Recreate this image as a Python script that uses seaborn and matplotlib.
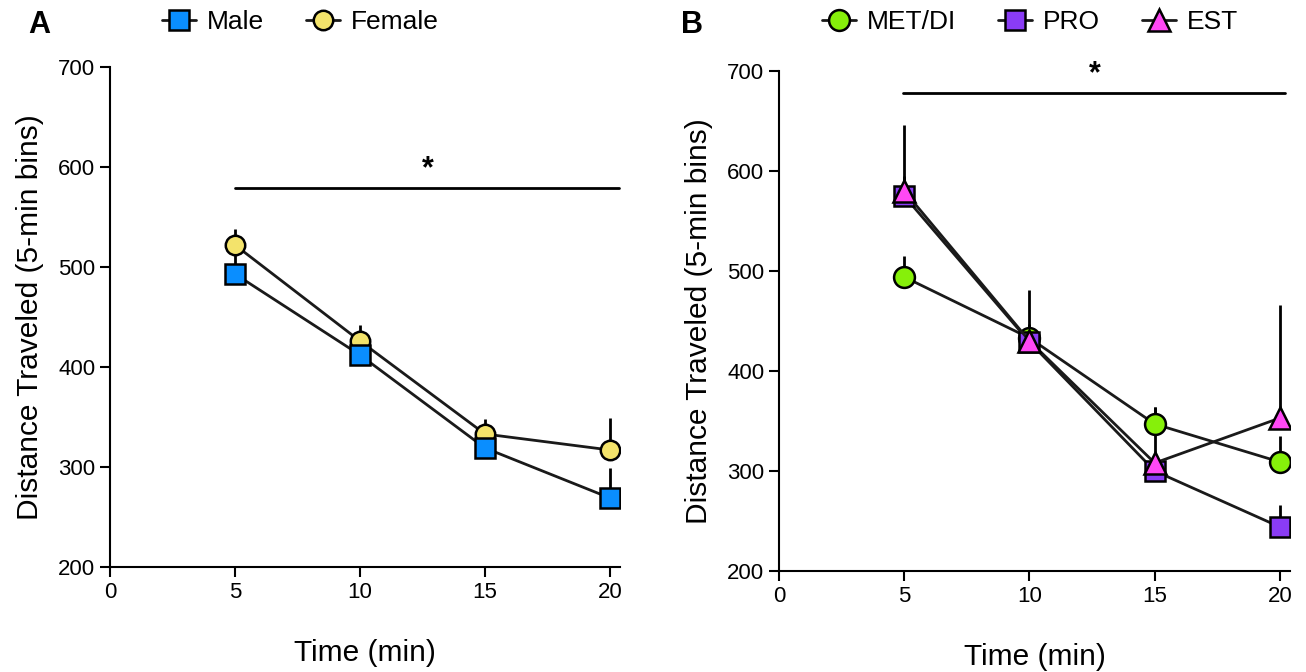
import numpy as np
import pandas as pd
import matplotlib
matplotlib.use("Agg")
import matplotlib.pyplot as plt
import seaborn as sns

time = [5, 10, 15, 20]

male_mean = [493, 412, 319, 269]
male_sem = [20, 12, 12, 30]
female_mean = [522, 426, 333, 317]
female_sem = [16, 16, 15, 32]

met_mean = [494, 433, 347, 309]
met_sem = [21, 14, 17, 26]
pro_mean = [575, 429, 300, 244]
pro_sem = [20, 15, 12, 22]
est_mean = [580, 430, 308, 353]
est_sem = [66, 51, 56, 113]

sns.set_theme(style="ticks")
plt.rcParams['font.family'] = ['Liberation Sans', 'DejaVu Sans']
plt.rcParams['text.color'] = 'black'
plt.rcParams['axes.labelcolor'] = 'black'

fig = plt.figure(figsize=(13.06, 6.72), dpi=100)
W, H = 1306, 672
axA = fig.add_axes([110 / W, 1 - 567 / H, (620 - 110) / W, 500 / H])
axB = fig.add_axes([779 / W, 1 - 571 / H, (1290 - 779) / W, 500 / H])

def draw(ax, name, mean, sem, marker, color, ms, z):
    df = pd.DataFrame({"Time": time, "Dist": mean})
    ax.errorbar(time, mean, yerr=[np.zeros(len(sem)), sem], fmt="none",
                ecolor="black", elinewidth=2, capsize=0, zorder=2)
    sns.lineplot(data=df, x="Time", y="Dist", ax=ax, color="#1a1a1a",
                 linewidth=2, marker=marker, markersize=ms,
                 markerfacecolor=color, markeredgecolor="black",
                 markeredgewidth=1.8, label=name, zorder=z)

draw(axA, "Female", female_mean, female_sem, "o", "#F3E36B", 14, 3)
draw(axA, "Male", male_mean, male_sem, "s", "#0A8EFF", 14, 4)

draw(axB, "MET/DI", met_mean, met_sem, "o", "#86F00A", 15, 3)
draw(axB, "PRO", pro_mean, pro_sem, "s", "#8A3CF5", 14, 4)
draw(axB, "EST", est_mean, est_sem, "^", "#FF48F5", 16, 5)

for ax in (axA, axB):
    ax.set_xlim(0, 20.4)
    ax.set_ylim(200, 700)
    ax.set_xticks([0, 5, 10, 15, 20])
    ax.set_yticks([200, 300, 400, 500, 600, 700])
    ax.tick_params(axis="both", labelsize=16, length=7, width=1.5, color="black", labelcolor="black")
    for s in ("left", "bottom"):
        ax.spines[s].set_linewidth(1.5)
        ax.spines[s].set_color("black")
    sns.despine(ax=ax)
    ax.set_xlabel("Time (min)", fontsize=21.5, labelpad=26)
    ax.set_ylabel("Distance Traveled (5-min bins)", fontsize=21.5, labelpad=10)
    ax.get_legend().remove()

# significance bars
axA.plot([5, 20.35], [579, 579], color="black", lw=2, clip_on=False)
axA.text(12.7, 583, "*", ha="center", va="bottom", fontsize=22, fontweight="bold")
axB.plot([4.95, 20.2], [678, 678], color="black", lw=2, clip_on=False)
axB.text(12.6, 682, "*", ha="center", va="bottom", fontsize=22, fontweight="bold")

# legends
hA, lA = axA.get_legend_handles_labels()
order = [lA.index("Male"), lA.index("Female")]
fig.legend([hA[i] for i in order], [lA[i] for i in order], loc="center",
           bbox_to_anchor=(300 / W, 1 - 22 / H), ncol=2, frameon=False,
           fontsize=19, handlelength=1.3, handletextpad=0.4, columnspacing=1.6)
hB, lB = axB.get_legend_handles_labels()
order = [lB.index("MET/DI"), lB.index("PRO"), lB.index("EST")]
fig.legend([hB[i] for i in order], [lB[i] for i in order], loc="center",
           bbox_to_anchor=(1030 / W, 1 - 22 / H), ncol=3, frameon=False,
           fontsize=19, handlelength=1.3, handletextpad=0.4, columnspacing=1.6)

fig.text(28 / W, 1 - 25 / H, "A", fontsize=22, fontweight="bold", ha="left", va="center")
fig.text(681 / W, 1 - 25 / H, "B", fontsize=22, fontweight="bold", ha="left", va="center")

fig.savefig("out.png", dpi=100)
